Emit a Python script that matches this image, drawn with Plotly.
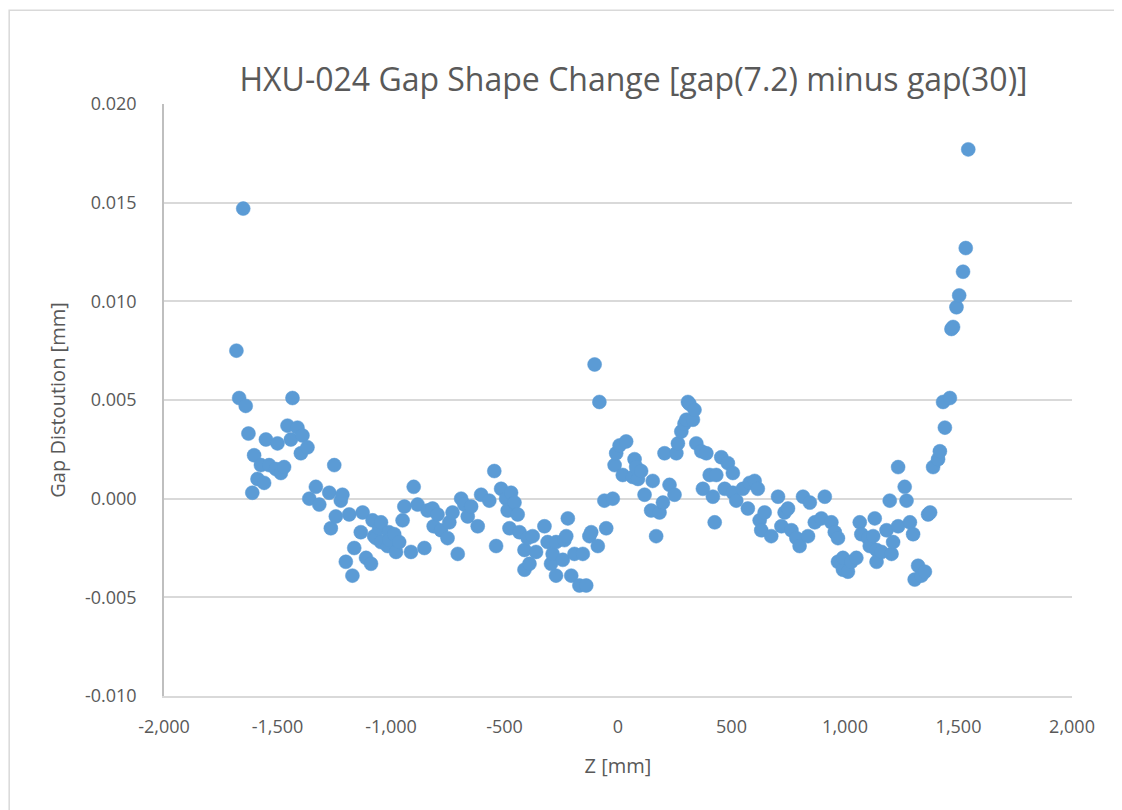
import plotly.graph_objects as go

z_mm = [-1681, -1669, -1651, -1640, -1628, -1611, -1603, -1588, -1573, -1559, -1551, -1537, -1507, -1500,
        -1485, -1471, -1456, -1441, -1434, -1412, -1397, -1390, -1368, -1360, -1331, -1316, -1272, -1265,
        -1250, -1243, -1221, -1214, -1199, -1184, -1170, -1162, -1133, -1125, -1110, -1088, -1081, -1074,
        -1066, -1052, -1044, -1044, -1015, -1009, -1008, -986, -978, -964, -949, -941, -912, -900, -883,
        -853, -839, -817, -812, -795, -780, -751, -743, -729, -706, -691, -677, -662, -647, -618, -603,
        -567, -545, -537, -515, -493, -486, -478, -471, -456, -442, -434, -412, -412, -398, -390, -376,
        -361, -324, -310, -295, -288, -273, -273, -243, -236, -228, -221, -206, -192, -170, -155, -140,
        -126, -118, -103, -89, -82, -60, -52, -23, -15, -8, 7, 21, 36, 65, 73, 80, 88, 102, 117, 146,
        153, 168, 183, 198, 205, 227, 249, 257, 264, 279, 293, 301, 308, 315, 330, 337, 345, 367, 374,
        389, 404, 418, 426, 433, 455, 470, 484, 506, 506, 521, 550, 572, 580, 602, 616, 624, 631, 646,
        675, 705, 720, 734, 749, 764, 786, 800, 815, 837, 845, 867, 896, 911, 940, 955, 969, 969, 991,
        991, 1013, 1028, 1050, 1065, 1072, 1102, 1109, 1124, 1131, 1139, 1139, 1161, 1183, 1197, 1205,
        1212, 1234, 1234, 1263, 1271, 1286, 1300, 1307, 1322, 1337, 1352, 1366, 1375, 1388, 1410, 1418,
        1432, 1440, 1462, 1469, 1476, 1491, 1503, 1520, 1532, 1543]

gap_distortion_mm = [0.0075, 0.0051, 0.0147, 0.0047, 0.0033, 0.0003, 0.0022, 0.0010, 0.0017, 0.0008, 0.0030,
                     0.0017, 0.0015, 0.0028, 0.0013, 0.0016, 0.0037, 0.0030, 0.0051, 0.0036, 0.0023, 0.0032,
                     0.0026, 0.0000, 0.0006, -0.0003, 0.0003, -0.0015, 0.0017, -0.0009, -0.0001, 0.0002,
                     -0.0032, -0.0008, -0.0039, -0.0025, -0.0017, -0.0007, -0.0030, -0.0033, -0.0011, -0.0019,
                     -0.0020, -0.0015, -0.0012, -0.0022, -0.0024, -0.0017, -0.0021, -0.0018, -0.0027, -0.0022,
                     -0.0011, -0.0004, -0.0027, 0.0006, -0.0003, -0.0025, -0.0006, -0.0005, -0.0014, -0.0008,
                     -0.0016, -0.0020, -0.0012, -0.0007, -0.0028, 0.0000, -0.0003, -0.0009, -0.0004, -0.0014,
                     0.0002, -0.0001, 0.0014, -0.0024, 0.0005, 0.0000, -0.0006, -0.0015, 0.0003, -0.0002,
                     -0.0008, -0.0017, -0.0026, -0.0036, -0.0020, -0.0033, -0.0019, -0.0027, -0.0014, -0.0022,
                     -0.0033, -0.0028, -0.0022, -0.0039, -0.0031, -0.0021, -0.0019, -0.0010, -0.0039, -0.0028,
                     -0.0044, -0.0028, -0.0044, -0.0019, -0.0017, 0.0068, -0.0024, 0.0049, -0.0001, -0.0015,
                     0.0000, 0.0017, 0.0023, 0.0027, 0.0012, 0.0029, 0.0011, 0.0020, 0.0016, 0.0010, 0.0014,
                     0.0002, -0.0006, 0.0009, -0.0019, -0.0007, -0.0002, 0.0023, 0.0007, 0.0002, 0.0023, 0.0028,
                     0.0034, 0.0038, 0.0040, 0.0049, 0.0048, 0.0040, 0.0045, 0.0028, 0.0024, 0.0005, 0.0023,
                     0.0012, 0.0001, -0.0012, 0.0012, 0.0021, 0.0005, 0.0018, 0.0013, 0.0003, -0.0001, 0.0005,
                     -0.0005, 0.0008, 0.0009, 0.0005, -0.0011, -0.0016, -0.0007, -0.0019, 0.0001, -0.0014,
                     -0.0007, -0.0005, -0.0016, -0.0020, -0.0024, 0.0001, -0.0019, -0.0002, -0.0012, -0.0010,
                     0.0001, -0.0012, -0.0017, -0.0020, -0.0032, -0.0036, -0.0030, -0.0037, -0.0032, -0.0030,
                     -0.0012, -0.0018, -0.0020, -0.0024, -0.0019, -0.0010, -0.0026, -0.0032, -0.0027, -0.0016,
                     -0.0001, -0.0028, -0.0022, -0.0014, 0.0016, 0.0006, -0.0001, -0.0012, -0.0018, -0.0041,
                     -0.0034, -0.0039, -0.0037, -0.0008, -0.0007, 0.0016, 0.0020, 0.0024, 0.0049, 0.0036,
                     0.0051, 0.0086, 0.0087, 0.0097, 0.0103, 0.0115, 0.0127, 0.0177]

x_tick_values = [-2000, -1500, -1000, -500, 0, 500, 1000, 1500, 2000]
y_tick_values = [-0.010, -0.005, 0.0, 0.005, 0.010, 0.015, 0.020]
x_tick_labels = ["-2,000", "-1,500", "-1,000", "-500", "0", "500", "1,000", "1,500", "2,000"]
y_tick_labels = ["-0.010", "-0.005", "0.000", "0.005", "0.010", "0.015", "0.020"]

title_text = "HXU-024 Gap Shape Change [gap(7.2) minus gap(30)]"
x_title = "Z [mm]"
y_title = "Gap Distoution [mm]"

FONT = "Open Sans"
GRAY = "#595959"

fig = go.Figure()
fig.add_trace(go.Scatter(
    x=z_mm, y=gap_distortion_mm, mode="markers",
    marker=dict(color="#5b9bd5", size=14, line=dict(color="#5b9bd5", width=0.5)),
    showlegend=False,
))

fig.update_layout(
    width=1114, height=802,
    margin=dict(l=156, r=50, t=96, b=114),
    paper_bgcolor="white", plot_bgcolor="white",
    title=dict(text=title_text, x=0.5615, xanchor="center", y=0.910, yanchor="middle",
               font=dict(family=FONT, size=32, color=GRAY)),
    font=dict(family=FONT, color=GRAY),
    shapes=[dict(type="rect", xref="paper", yref="paper", x0=-0.1705, x1=1.0485, y0=-0.25, y1=1.1585,
                 line=dict(color="#d9d9d9", width=1.5), fillcolor="rgba(0,0,0,0)", layer="below")],
)

fig.update_xaxes(
    range=[-2000, 2000], tickvals=x_tick_values, ticktext=x_tick_labels,
    showgrid=False, zeroline=False,
    showline=True, linecolor="#d9d9d9", linewidth=1.5,
    ticks="", ticklabelstandoff=14,
    tickfont=dict(family=FONT, size=18, color=GRAY),
    title=dict(text=x_title, font=dict(family=FONT, size=20, color=GRAY), standoff=22),
)
fig.update_yaxes(
    range=[-0.010, 0.020], tickvals=y_tick_values, ticktext=y_tick_labels,
    showgrid=True, gridcolor="#d9d9d9", gridwidth=1.5, zeroline=False,
    showline=True, linecolor="#bfbfbf", linewidth=1.5,
    ticks="", ticklabelstandoff=22,
    tickfont=dict(family=FONT, size=18, color=GRAY),
    title=dict(text=y_title, font=dict(family=FONT, size=20, color=GRAY), standoff=14),
)

fig.write_html("out.html")
